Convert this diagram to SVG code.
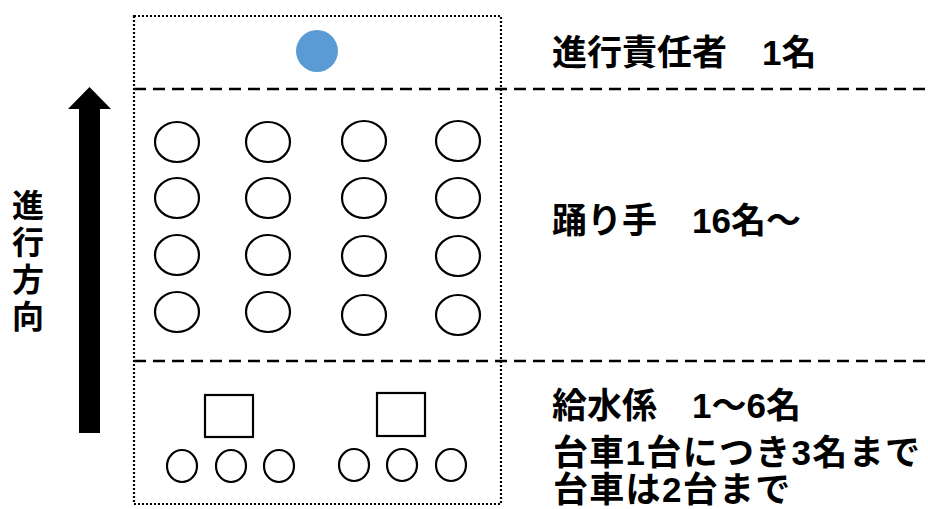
<svg xmlns="http://www.w3.org/2000/svg" width="928" height="509" viewBox="0 0 928 509">
<style>
.dot{fill:none;stroke:#000;stroke-width:2.2;stroke-dasharray:2 2}
.dash{fill:none;stroke:#000;stroke-width:2.5;stroke-dasharray:12 7}
.o{fill:#fff;stroke:#000;stroke-width:2.2}
.t{font-family:"Liberation Sans","Noto Sans CJK JP",sans-serif;font-weight:bold;font-size:35px;fill:#000}
.v{font-size:32px}
.ls{letter-spacing:1.3px}
</style>
<rect width="928" height="509" fill="#fff"/>
<g id="frame">
<rect class="dot" x="134" y="16" width="367" height="488"/>
</g>
<g id="connectors">
<line class="dash" x1="134" y1="89" x2="928" y2="89"/>
<line class="dash" x1="134" y1="361" x2="928" y2="361"/>
</g>
<g id="leader">
<circle cx="317" cy="51" r="21" fill="#5b9bd5"/>
</g>
<g id="dancers">
<ellipse class="o" cx="177" cy="142" rx="22" ry="20"/>
<ellipse class="o" cx="268" cy="142" rx="22" ry="20"/>
<ellipse class="o" cx="364" cy="141" rx="22" ry="20"/>
<ellipse class="o" cx="458" cy="141" rx="22" ry="20"/>
<ellipse class="o" cx="177" cy="198" rx="22" ry="20"/>
<ellipse class="o" cx="268" cy="198" rx="22" ry="20"/>
<ellipse class="o" cx="364" cy="198" rx="22" ry="20"/>
<ellipse class="o" cx="458" cy="198" rx="22" ry="20"/>
<ellipse class="o" cx="177" cy="255" rx="22" ry="20"/>
<ellipse class="o" cx="268" cy="255" rx="22" ry="20"/>
<ellipse class="o" cx="364" cy="256" rx="22" ry="20"/>
<ellipse class="o" cx="458" cy="256" rx="22" ry="20"/>
<ellipse class="o" cx="177" cy="312" rx="22" ry="20"/>
<ellipse class="o" cx="268" cy="312" rx="22" ry="20"/>
<ellipse class="o" cx="364" cy="315" rx="22" ry="20"/>
<ellipse class="o" cx="458" cy="315" rx="22" ry="20"/>
</g>
<g id="carts">
<rect class="o" x="205" y="395" width="48" height="42"/>
<rect class="o" x="377" y="393" width="48" height="43"/>
</g>
<g id="water">
<ellipse class="o" cx="182" cy="466" rx="15" ry="16"/>
<ellipse class="o" cx="231" cy="466" rx="15" ry="16"/>
<ellipse class="o" cx="279" cy="466" rx="15" ry="16"/>
<ellipse class="o" cx="354" cy="465" rx="15" ry="16"/>
<ellipse class="o" cx="402" cy="465" rx="15" ry="16"/>
<ellipse class="o" cx="451" cy="465" rx="15" ry="16"/>
</g>
<g id="arrow">
<polygon points="79,433 79,109 68,109 89.5,87 111,109 100,109 100,433" fill="#000"/>
</g>
<g id="direction-label">
<text class="t v" x="28" y="217" text-anchor="middle">進</text>
<text class="t v" x="28" y="254" text-anchor="middle">行</text>
<text class="t v" x="28" y="291" text-anchor="middle">方</text>
<text class="t v" x="28" y="328" text-anchor="middle">向</text>
</g>
<g id="labels">
<text class="t" x="552" y="65">進行責任者　1名</text>
<text class="t" x="552" y="233">踊り手　16名～</text>
<text class="t" x="552" y="418">給水係　1～6名</text>
<text class="t ls" x="553" y="465">台車1台につき3名まで</text>
<text class="t ls" x="553" y="502">台車は2台まで</text>
</g>
</svg>
